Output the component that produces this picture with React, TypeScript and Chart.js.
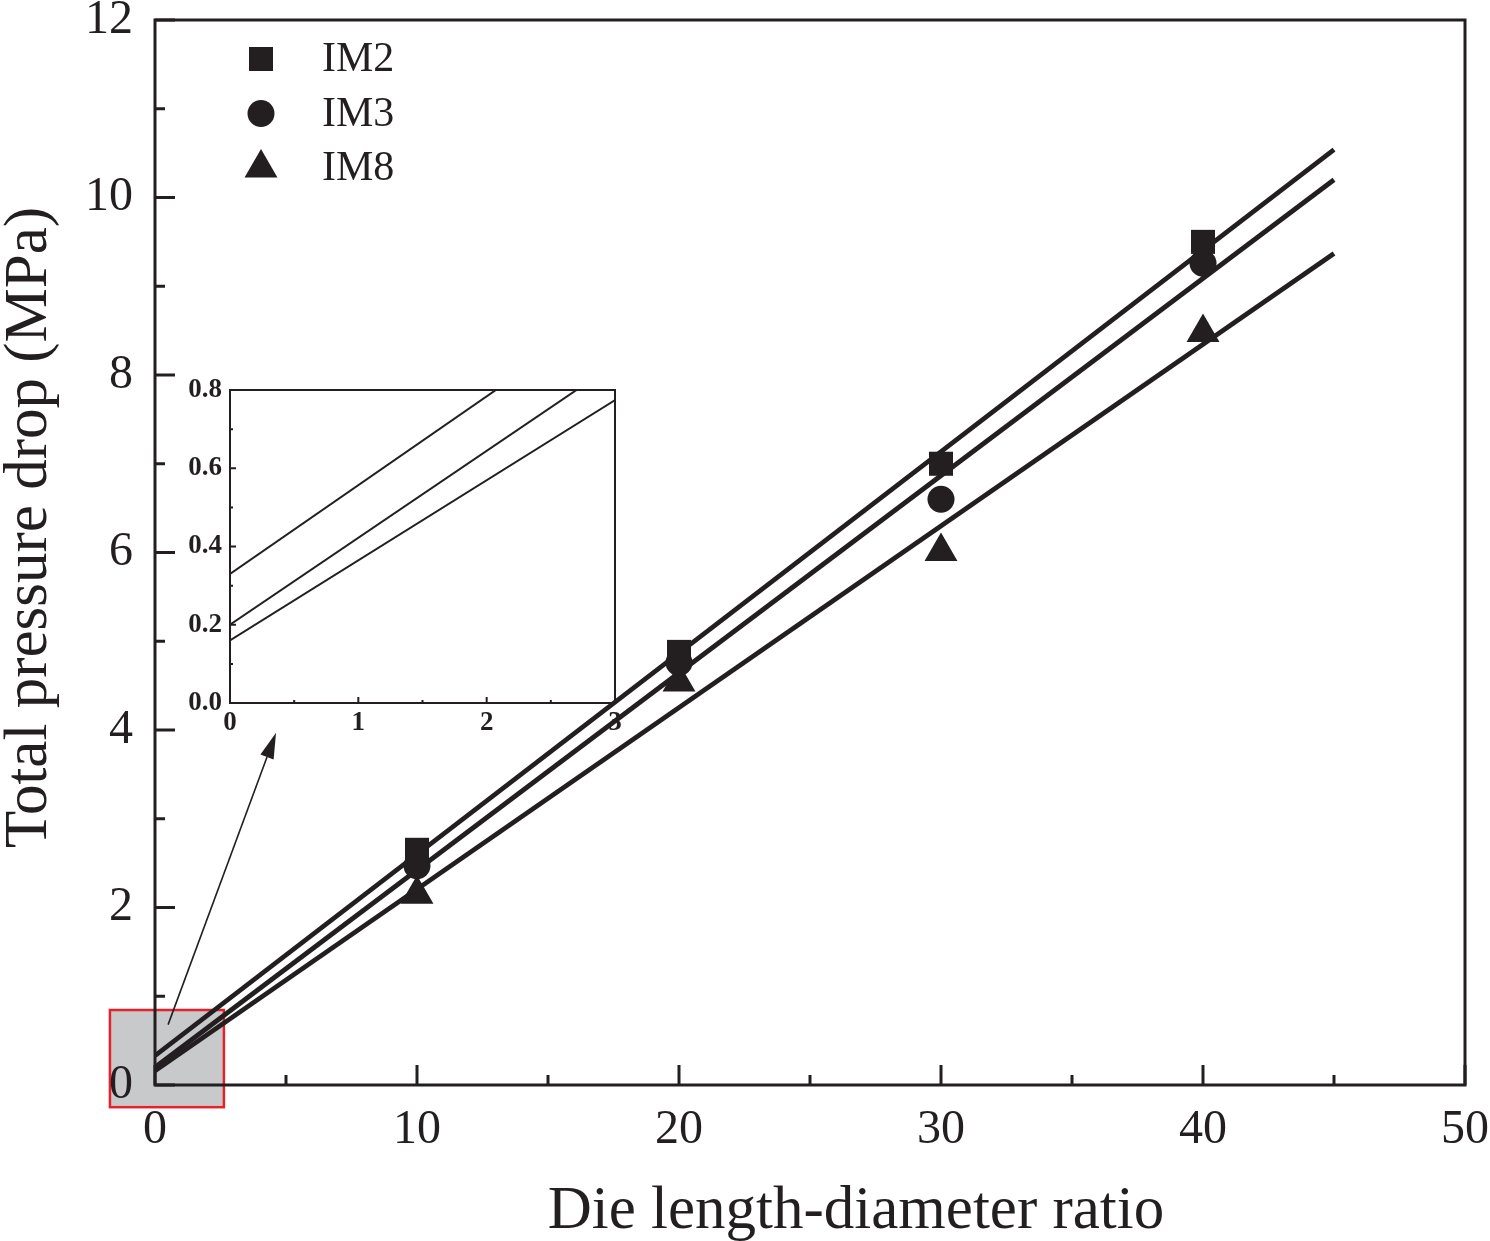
import React, { useEffect, useRef } from 'react';
import { Chart, registerables } from 'chart.js';
import { drawPoint } from 'chart.js/helpers';

Chart.register(...registerables);

// ---------- data ----------
const ratios = [10, 20, 30, 40];
const im2Drop = [2.65, 4.88, 7.0, 9.5];
const im3Drop = [2.47, 4.76, 6.6, 9.26];
const im8Drop = [2.15, 4.54, 6.01, 8.48];

const fitRatios = [0, 45];
const im2Fit = [0.33, 10.54];
const im3Fit = [0.2, 10.2];
const im8Fit = [0.16, 9.37];

const seriesNames = ['IM2', 'IM3', 'IM8'];
const seriesStyles = ['rect', 'circle', 'triangle'];

const mainXTicks = [0, 10, 20, 30, 40, 50];
const mainYTicks = [0, 2, 4, 6, 8, 10, 12];
const insetXTicks = [0, 1, 2, 3];
const insetYTicks = [0, 0.2, 0.4, 0.6, 0.8];

const xTitle = 'Die length-diameter ratio';
const yTitle = 'Total pressure drop (MPa)';

// zoom-region annotation (data units of the main chart)
const zoomBoxX = [-1.72, 2.63];
const zoomBoxY = [-0.25, 0.845];
const arrowFrom = [0.5, 0.68];
const arrowTo = [4.62, 3.97];

// ---------- styling ----------
const INK = '#231f20';
const SERIF = '"Liberation Serif", "Times New Roman", Times, serif';
const markerRadius: Record<string, number> = { rect: 17, circle: 13.5, triangle: 19 };

const pts = (xs: number[], ys: number[]) => xs.map((x, i) => ({ x, y: ys[i] }));

function markerSet(name: string, style: string, ys: number[]) {
  return {
    label: name,
    data: pts(ratios, ys),
    showLine: false,
    pointStyle: style,
    pointRadius: markerRadius[style],
    pointHoverRadius: markerRadius[style],
    pointBorderWidth: 0,
    backgroundColor: INK,
    borderColor: INK,
    isMarker: true,
  };
}

function fitSet(name: string, ys: number[], width: number) {
  return {
    label: name + ' fit',
    data: pts(fitRatios, ys),
    borderColor: INK,
    backgroundColor: INK,
    borderWidth: width,
    pointRadius: 0,
    pointHoverRadius: 0,
    fill: false,
    tension: 0,
  };
}

function frameTicksPlugin(lw: number, major: number, minor: number) {
  return {
    id: 'frameTicks',
    afterDatasetsDraw(chart: any) {
      const { ctx, chartArea: a, scales } = chart;
      const xs = scales.x;
      const ys = scales.y;
      const xv: number[] = xs.ticks.map((t: any) => t.value);
      const yv: number[] = ys.ticks.map((t: any) => t.value);
      ctx.save();
      ctx.strokeStyle = INK;
      ctx.lineWidth = lw;
      ctx.lineCap = 'butt';
      ctx.beginPath();
      const xTick = (v: number, len: number) => {
        const p = xs.getPixelForValue(v);
        ctx.moveTo(p, a.bottom);
        ctx.lineTo(p, a.bottom - len);
      };
      const yTick = (v: number, len: number) => {
        const p = ys.getPixelForValue(v);
        ctx.moveTo(a.left, p);
        ctx.lineTo(a.left + len, p);
      };
      xv.forEach((v, i) => {
        xTick(v, major);
        if (i < xv.length - 1) xTick((v + xv[i + 1]) / 2, minor);
      });
      yv.forEach((v, i) => {
        yTick(v, major);
        if (i < yv.length - 1) yTick((v + yv[i + 1]) / 2, minor);
      });
      ctx.stroke();
      ctx.lineJoin = 'miter';
      ctx.strokeRect(a.left, a.top, a.right - a.left, a.bottom - a.top);
      ctx.restore();
    },
  };
}

const zoomBoxPlugin = {
  id: 'zoomBox',
  beforeDraw(chart: any) {
    const { ctx, scales } = chart;
    const x0 = scales.x.getPixelForValue(zoomBoxX[0]);
    const x1 = scales.x.getPixelForValue(zoomBoxX[1]);
    const y0 = scales.y.getPixelForValue(zoomBoxY[1]);
    const y1 = scales.y.getPixelForValue(zoomBoxY[0]);
    ctx.save();
    ctx.fillStyle = '#c8c9cb';
    ctx.fillRect(x0, y0, x1 - x0, y1 - y0);
    ctx.strokeStyle = '#e8202a';
    ctx.lineWidth = 2.5;
    ctx.strokeRect(x0, y0, x1 - x0, y1 - y0);
    ctx.restore();
  },
};

const overlayPlugin = {
  id: 'overlay',
  afterDraw(chart: any) {
    const { ctx, chartArea: a, scales } = chart;
    ctx.save();
    // arrow
    const fx = scales.x.getPixelForValue(arrowFrom[0]);
    const fy = scales.y.getPixelForValue(arrowFrom[1]);
    const tx = scales.x.getPixelForValue(arrowTo[0]);
    const ty = scales.y.getPixelForValue(arrowTo[1]);
    const ang = Math.atan2(ty - fy, tx - fx);
    const headLen = 26;
    const headHalf = 7;
    const bx = tx - Math.cos(ang) * headLen;
    const by = ty - Math.sin(ang) * headLen;
    ctx.strokeStyle = INK;
    ctx.fillStyle = INK;
    ctx.lineWidth = 1.6;
    ctx.beginPath();
    ctx.moveTo(fx, fy);
    ctx.lineTo(bx, by);
    ctx.stroke();
    ctx.beginPath();
    ctx.moveTo(tx, ty);
    ctx.lineTo(bx + Math.sin(ang) * headHalf, by - Math.cos(ang) * headHalf);
    ctx.lineTo(bx - Math.sin(ang) * headHalf, by + Math.cos(ang) * headHalf);
    ctx.closePath();
    ctx.fill();

    // legend
    const markers = chart.data.datasets.filter((d: any) => d.isMarker);
    markers.forEach((d: any, i: number) => {
      const y = a.top + 39 + i * 54.5;
      ctx.fillStyle = INK;
      drawPoint(ctx, { pointStyle: d.pointStyle, radius: d.pointRadius, rotation: 0, borderWidth: 0 } as any, a.left + 106, y);
      ctx.font = `42px ${SERIF}`;
      ctx.textAlign = 'left';
      ctx.textBaseline = 'middle';
      ctx.fillText(d.label, a.left + 167, y + 1);
    });

    // axis titles
    ctx.fillStyle = INK;
    ctx.font = `61px ${SERIF}`;
    ctx.textAlign = 'center';
    ctx.textBaseline = 'middle';
    ctx.fillText(xTitle, (a.left + a.right) / 2 + 46, 1212);
    ctx.save();
    ctx.translate(30, (a.top + a.bottom) / 2 - 25);
    ctx.rotate(-Math.PI / 2);
    ctx.fillText(yTitle, 0, 0);
    ctx.restore();
    ctx.restore();
  },
};

function mainConfig(): any {
  const drops = [im2Drop, im3Drop, im8Drop];
  const fits = [im2Fit, im3Fit, im8Fit];
  return {
    type: 'line',
    data: {
      datasets: [
        ...seriesNames.map((n, i) => markerSet(n, seriesStyles[i], drops[i])),
        ...seriesNames.map((n, i) => fitSet(n, fits[i], 4.8)),
      ],
    },
    options: {
      responsive: false,
      animation: false,
      layout: { padding: { top: 20, right: 25, left: 0, bottom: 0 } },
      plugins: { legend: { display: false }, tooltip: { enabled: false } },
      scales: {
        x: {
          type: 'linear',
          min: 0,
          max: 50,
          afterBuildTicks: (s: any) => { s.ticks = mainXTicks.map((value) => ({ value })); },
          grid: { display: false, drawTicks: false },
          border: { display: false },
          ticks: { font: { family: SERIF, size: 48 }, color: INK, padding: 17, maxRotation: 0, autoSkip: false },
          afterFit: (s: any) => { s.height = 156; s.paddingLeft = 0; s.paddingRight = 0; },
        },
        y: {
          type: 'linear',
          min: 0,
          max: 12,
          afterBuildTicks: (s: any) => { s.ticks = mainYTicks.map((value) => ({ value })); },
          grid: { display: false, drawTicks: false },
          border: { display: false },
          ticks: { font: { family: SERIF, size: 48 }, color: INK, padding: 22, autoSkip: false },
          afterFit: (s: any) => { s.width = 155; s.paddingTop = 0; s.paddingBottom = 0; },
        },
      },
    },
    plugins: [zoomBoxPlugin, frameTicksPlugin(3, 20, 10), overlayPlugin],
  };
}

function insetConfig(): any {
  const fits = [im2Fit, im3Fit, im8Fit];
  return {
    type: 'line',
    data: { datasets: seriesNames.map((n, i) => fitSet(n, fits[i], 2)) },
    options: {
      responsive: false,
      animation: false,
      layout: { padding: { top: 15, right: 15, left: 0, bottom: 0 } },
      plugins: { legend: { display: false }, tooltip: { enabled: false } },
      scales: {
        x: {
          type: 'linear',
          min: 0,
          max: 3,
          afterBuildTicks: (s: any) => { s.ticks = insetXTicks.map((value) => ({ value })); },
          grid: { display: false, drawTicks: false },
          border: { display: false },
          ticks: { font: { family: SERIF, size: 27, weight: 'bold' }, color: INK, padding: 4, maxRotation: 0, autoSkip: false, callback: (v: number) => String(v) },
          afterFit: (s: any) => { s.height = 42; s.paddingLeft = 0; s.paddingRight = 0; },
        },
        y: {
          type: 'linear',
          min: 0,
          max: 0.8,
          afterBuildTicks: (s: any) => { s.ticks = insetYTicks.map((value) => ({ value })); },
          grid: { display: false, drawTicks: false },
          border: { display: false },
          ticks: { font: { family: SERIF, size: 27, weight: 'bold' }, color: INK, padding: 8, autoSkip: false, callback: (v: number) => Number(v).toFixed(1) },
          afterFit: (s: any) => { s.width = 50; s.paddingTop = 0; s.paddingBottom = 0; },
        },
      },
    },
    plugins: [frameTicksPlugin(2, 6, 3)],
  };
}

export default function App() {
  const mainRef = useRef<HTMLCanvasElement>(null);
  const insetRef = useRef<HTMLCanvasElement>(null);
  useEffect(() => {
    document.body.style.margin = '0';
    const main = new Chart(mainRef.current as HTMLCanvasElement, mainConfig());
    const inset = new Chart(insetRef.current as HTMLCanvasElement, insetConfig());
    return () => {
      main.destroy();
      inset.destroy();
    };
  }, []);
  return (
    <div style={{ position: 'relative', width: 1490, height: 1241, background: '#ffffff', overflow: 'hidden' }}>
      <canvas ref={mainRef} width={1490} height={1241} style={{ position: 'absolute', left: 0, top: 0, width: 1490, height: 1241 }} />
      <canvas ref={insetRef} width={450} height={370} style={{ position: 'absolute', left: 180, top: 375, width: 450, height: 370 }} />
    </div>
  );
}
